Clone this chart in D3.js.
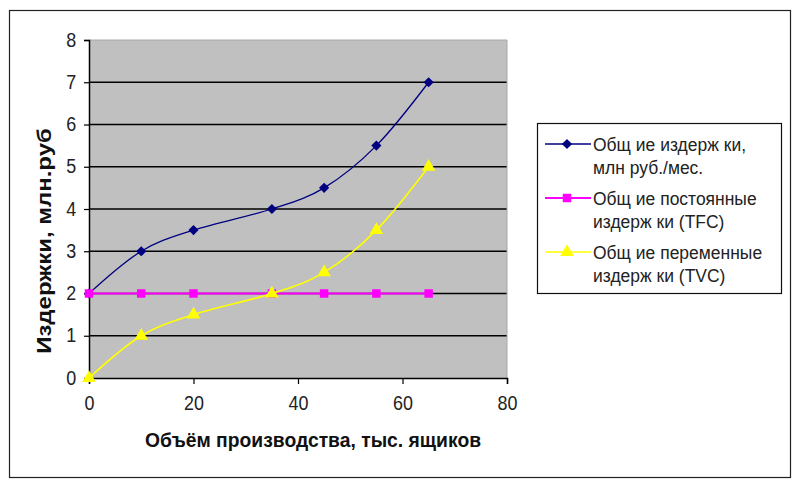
<!DOCTYPE html>
<html lang="ru">
<head>
<meta charset="UTF-8">
<title>Издержки</title>
<script src="https://d3js.org/d3.v7.min.js"></script>
<style>
  body { margin: 0; background: #fff; }
  svg text { font-family: Arial, "Liberation Sans", sans-serif; }
</style>
</head>
<body>
<svg id="chart" width="800" height="489"></svg>
<script>
// data
var volume = [0, 10, 20, 35, 45, 55, 65];
var totalCost = [2, 3, 3.5, 4, 4.5, 5.5, 7];
var fixedCost = [2, 2, 2, 2, 2, 2, 2];
var varCost = [0, 1, 1.5, 2, 2.5, 3.5, 5];
var xTicks = [0, 20, 40, 60, 80];
var yTicks = [0, 1, 2, 3, 4, 5, 6, 7, 8];
var seriesNames = [
  ["Общ ие издерж ки,", "млн  руб./мес."],
  ["Общ ие постоянные", "издерж ки (TFC)"],
  ["Общ ие переменные", "издерж ки (TVC)"]
];

var svg = d3.select("#chart");

// outer frame
svg.append("rect")
  .attr("x", 9.5).attr("y", 10.5)
  .attr("width", 781).attr("height", 467)
  .attr("fill", "#fff").attr("stroke", "#222").attr("stroke-width", 1.2);

var pL = 89, pR = 507, pT = 40, pB = 378;
var x = d3.scaleLinear().domain([0, 80]).range([pL, pR]);
var y = d3.scaleLinear().domain([0, 8]).range([pB, pT]);

// plot area
svg.append("rect")
  .attr("x", pL).attr("y", pT)
  .attr("width", pR - pL).attr("height", pB - pT)
  .attr("fill", "#c0c0c0");

// gridlines
svg.append("g").selectAll("line")
  .data(yTicks.filter(function(d) { return d > 0 && d < 8; }))
  .enter().append("line")
  .attr("x1", pL).attr("x2", pR)
  .attr("y1", function(d) { return y(d); })
  .attr("y2", function(d) { return y(d); })
  .attr("stroke", "#000").attr("stroke-width", 1.5);

// right/top border of plot area
svg.append("path")
  .attr("d", "M" + pL + "," + pT + "H" + pR + "V" + pB)
  .attr("fill", "none").attr("stroke", "#a8a8a8").attr("stroke-width", 1);

// axes
var yAxis = svg.append("g")
  .attr("transform", "translate(" + pL + ",0)")
  .call(d3.axisLeft(y).tickValues(yTicks).tickSize(5).tickPadding(9).tickFormat(d3.format("d")));
var xAxis = svg.append("g")
  .attr("transform", "translate(0," + pB + ")")
  .call(d3.axisBottom(x).tickValues(xTicks).tickSize(6).tickPadding(12).tickFormat(d3.format("d")));
[yAxis, xAxis].forEach(function(a) {
  a.select(".domain").attr("stroke", "#000").attr("stroke-width", 1.5);
  a.selectAll(".tick line").attr("stroke", "#000").attr("stroke-width", 1.2);
  a.selectAll("text").attr("font-size", 19.5).attr("fill", "#222")
    .attr("transform", "scale(0.92,1)")
    .style("font-family", "Arial, 'Liberation Sans', sans-serif");
});

// axis titles
svg.append("text")
  .attr("transform", "translate(313,447) scale(0.92,1)")
  .attr("text-anchor", "middle")
  .attr("font-size", 21).attr("font-weight", "bold").attr("fill", "#111")
  .text("Объём производства, тыс. ящиков");
svg.append("text")
  .attr("transform", "translate(51,241) rotate(-90) scale(1.09,0.88)")
  .attr("text-anchor", "middle")
  .attr("font-size", 22).attr("font-weight", "bold").attr("fill", "#111")
  .text("Издержки, млн.руб");

var colors = ["#000080", "#ff00ff", "#ffff00"];
var widths = [1.3, 2, 1.6];
var values = [totalCost, fixedCost, varCost];
var shapes = [d3.symbolSquare, d3.symbolSquare, d3.symbolTriangle];
var sizes = [52, 72, 80];
var turn = [45, 0, 0];

var line = d3.line()
  .x(function(d) { return x(d[0]); })
  .y(function(d) { return y(d[1]); })
  .curve(d3.curveCatmullRom.alpha(0));

function marker(g, i, cx, cy) {
  g.append("path")
    .attr("transform", "translate(" + cx + "," + cy + ") rotate(" + turn[i] + ")")
    .attr("d", d3.symbol().type(shapes[i]).size(sizes[i]))
    .attr("fill", colors[i]);
}

values.forEach(function(vals, i) {
  var pts = volume.map(function(v, j) { return [v, vals[j]]; });
  svg.append("path")
    .datum(pts)
    .attr("d", line)
    .attr("fill", "none")
    .attr("stroke", colors[i])
    .attr("stroke-width", widths[i]);
  var g = svg.append("g");
  pts.forEach(function(d) { marker(g, i, x(d[0]), y(d[1])); });
});

// legend
var lg = svg.append("g");
lg.append("rect")
  .attr("x", 537.5).attr("y", 123.5)
  .attr("width", 244).attr("height", 170)
  .attr("fill", "#fff").attr("stroke", "#111").attr("stroke-width", 1.2);
seriesNames.forEach(function(lines, i) {
  var ly = 144 + i * 54;
  lg.append("line")
    .attr("x1", 545).attr("x2", 591)
    .attr("y1", ly).attr("y2", ly)
    .attr("stroke", colors[i]).attr("stroke-width", widths[i]);
  marker(lg, i, 567, ly);
  lines.forEach(function(t, k) {
    lg.append("text")
      .attr("transform", "translate(593," + (ly + 7 + k * 23) + ") scale(0.92,1)")
      .attr("font-size", 19).attr("fill", "#222")
      .text(t);
  });
});
</script>
</body>
</html>
